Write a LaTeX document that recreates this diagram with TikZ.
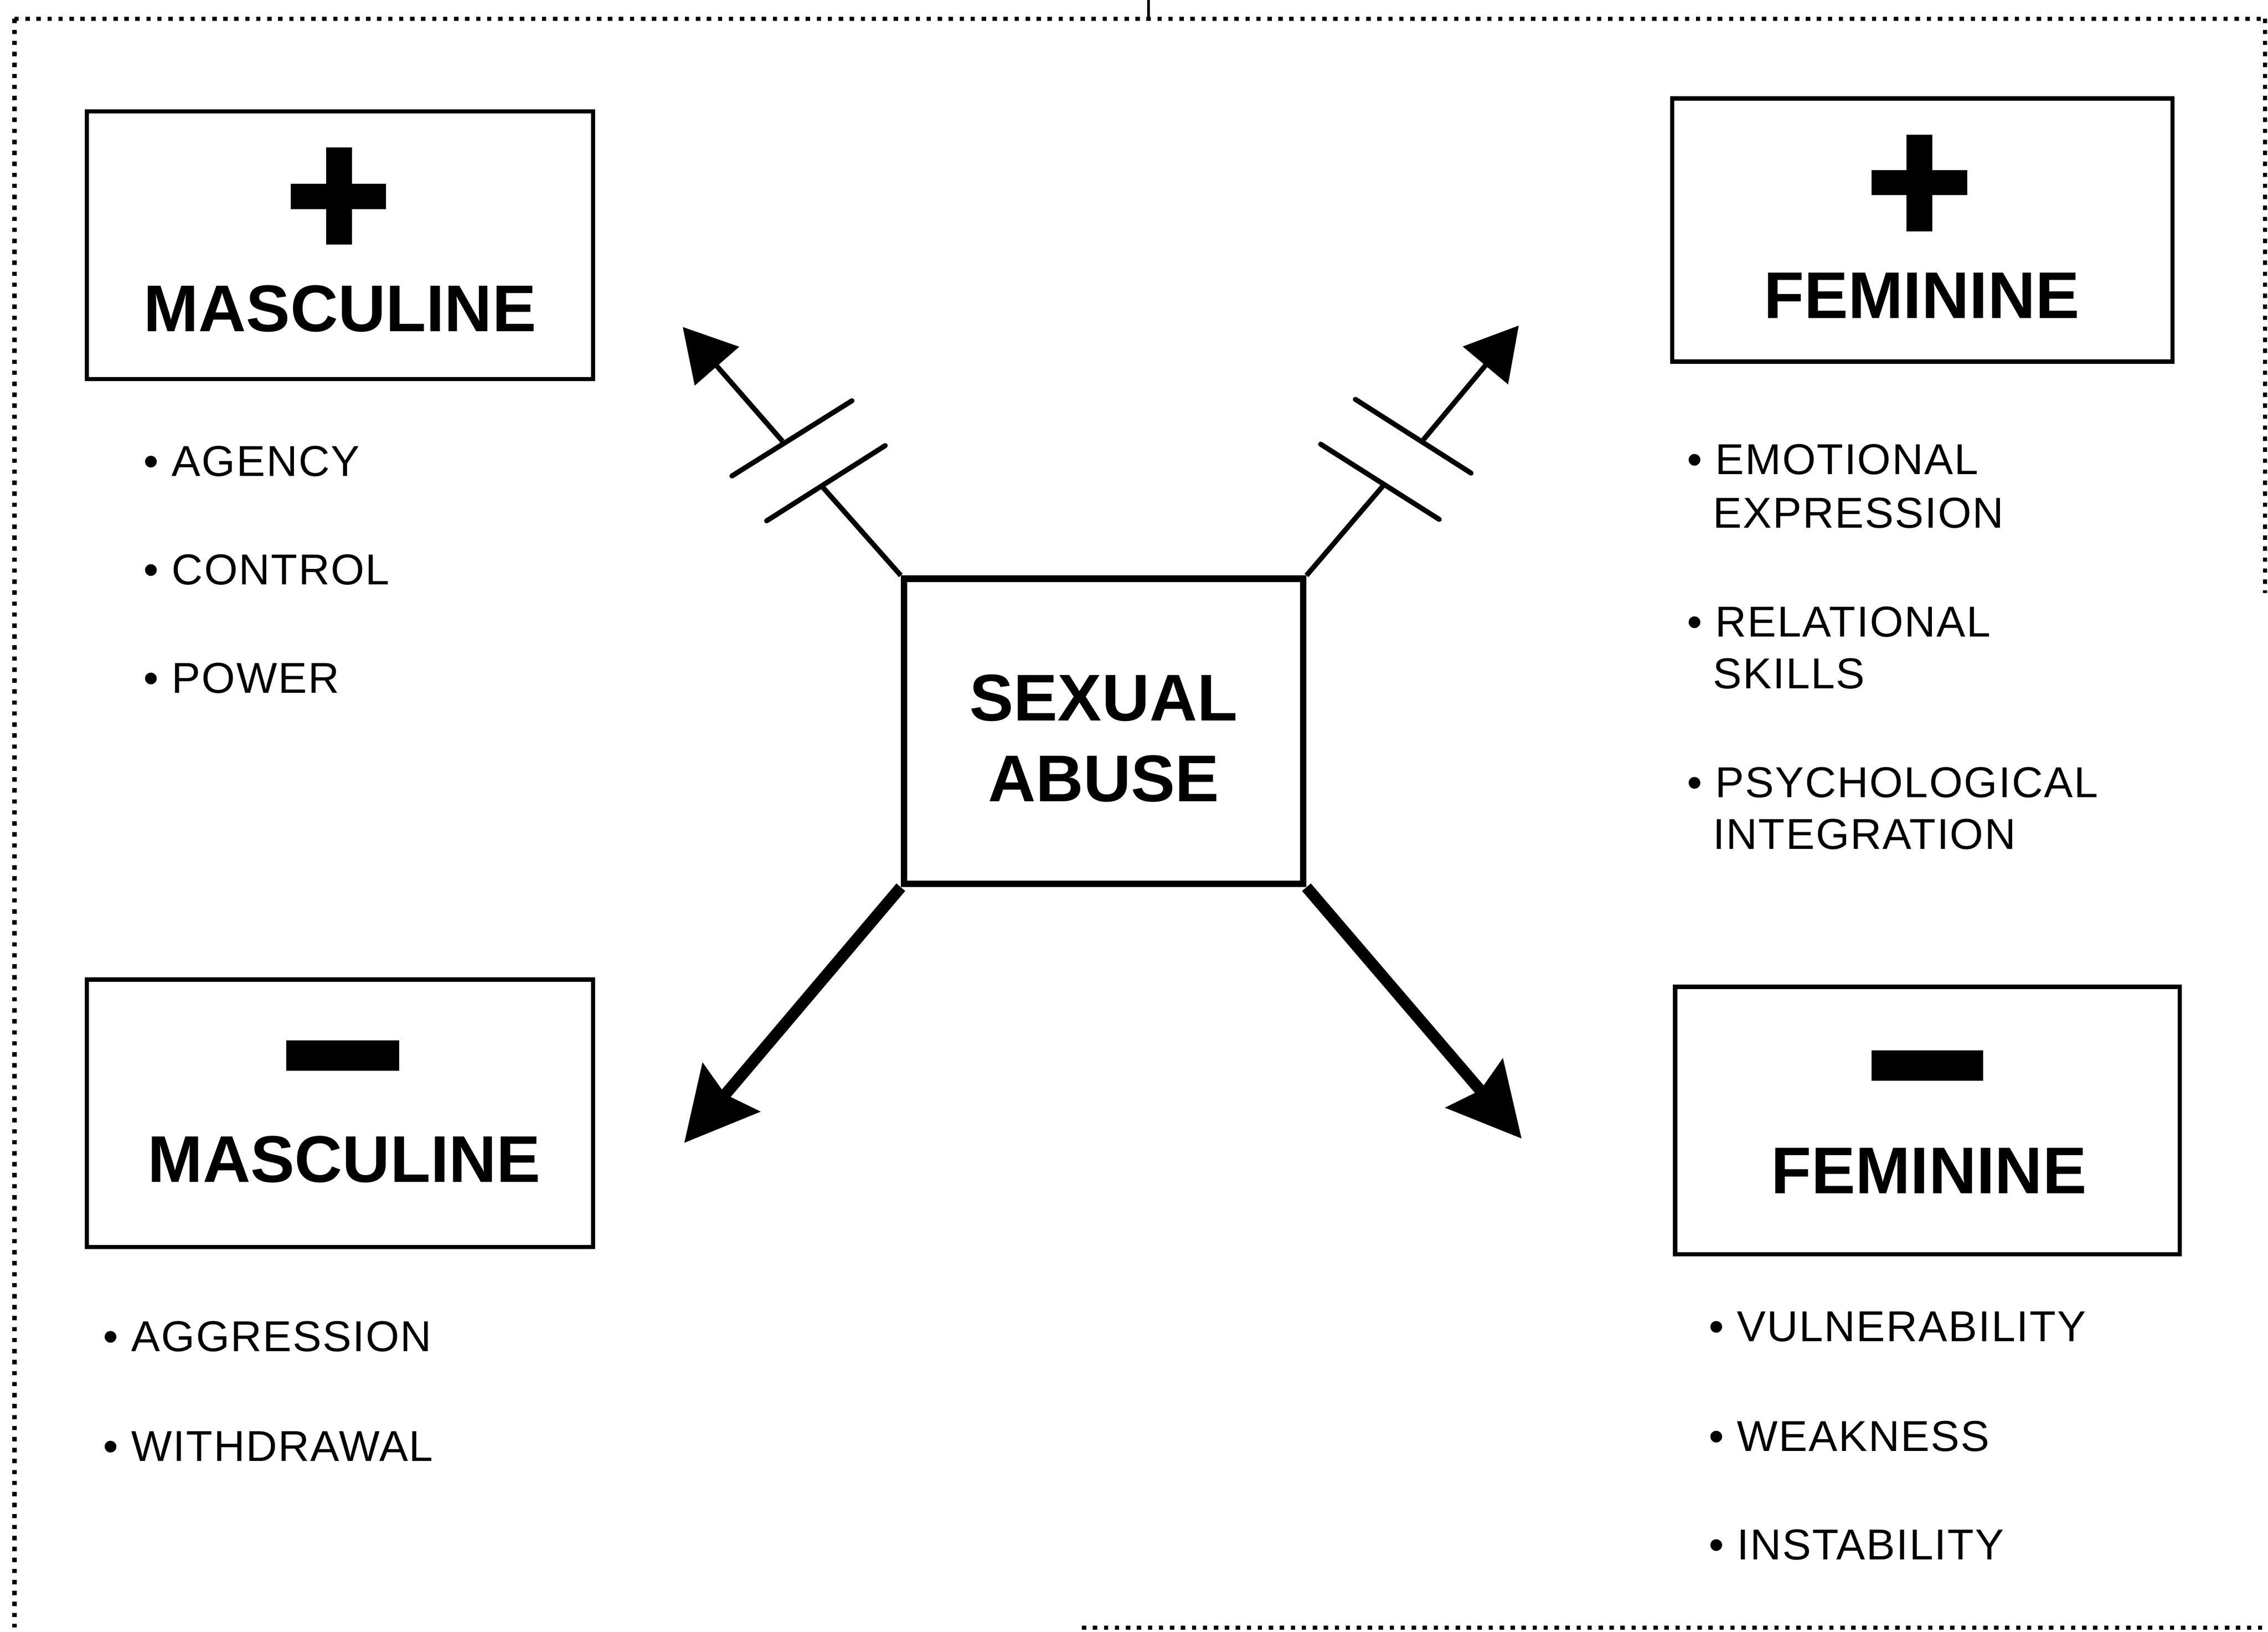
\documentclass[tikz,border=0pt]{standalone}
\usepackage{fontspec}
\setmainfont{Liberation Sans}
\newfontfamily\itemfont[LetterSpace=2.5]{Liberation Sans}
\usetikzlibrary{arrows.meta,calc}
\begin{document}
\begin{tikzpicture}[x=0.02cm,y=-0.02cm,
  frame/.style={line width=0.06cm,dash pattern=on 0.06cm off 0.092cm},
  box/.style={draw,line width=0.06cm,inner sep=0},
  centrebox/.style={draw,line width=0.09cm,inner sep=0,minimum width=5.52cm,minimum height=4.22cm},
  title/.style={font=\fontsize{26}{31}\selectfont\bfseries,inner sep=0,anchor=base},
  item/.style={font=\itemfont\fontsize{17}{21}\selectfont,inner sep=0,anchor=base west},
  thinline/.style={line width=0.07cm},
  thinhead/.style={thinline,-{Triangle[length=0.72cm,width=0.8cm]}},
  barline/.style={line width=0.07cm,line cap=round},
  thickhead/.style={line width=0.16cm,-{Stealth[length=1.0cm,width=1.02cm,inset=0.12cm]}}
]
\useasboundingbox (0,0) rectangle (1568,1128);

% dotted frame
\draw[frame] (10,13) -- (1566,13);
\draw[frame] (10,13) -- (10,1125);
\draw[frame] (748,1125) -- (1566,1125);
\draw[frame] (1566,13) -- (1566,410);
\draw[line width=0.04cm] (794,0) -- (794,13);

% boxes
\node (tlbox) [box,minimum width=7cm,minimum height=3.7cm] at (235,169.5) {};
\node (trbox) [box,minimum width=6.92cm,minimum height=3.64cm] at (1329,159) {};
\node (blbox) [box,minimum width=7cm,minimum height=3.7cm] at (235,769.5) {};
\node (brbox) [box,minimum width=6.98cm,minimum height=3.7cm] at (1332.5,774.5) {};
\node (cbox) [centrebox] at (763,505.5) {};

% plus and minus signs
\fill (225.5,102) rectangle (243.5,169);
\fill (201,127) rectangle (267,144.5);
\fill (1318,93) rectangle (1336,160);
\fill (1294,117.5) rectangle (1360,135);
\fill (198,719) rectangle (276,740);
\fill (1294,726) rectangle (1371,747);

% titles
\node (t1) [title] at (235,229) {MASCULINE};
\node (t2) [title] at (1328.5,220) {FEMININE};
\node (t3) [title] at (238,817) {MASCULINE};
\node (t4) [title] at (1333.5,825) {FEMININE};
\node (c1) [title] at (763,498) {SEXUAL};
\node (c2) [title] at (763,554) {ABUSE};

% lists
\node (a1) [item] at (99,329) {• AGENCY};
\node (a2) [item] at (99,404) {• CONTROL};
\node (a3) [item] at (99,479) {• POWER};

\node (b1) [item] at (1166,328) {• EMOTIONAL};
\node (b1b) [item] at (1184,365) {EXPRESSION};
\node (b2) [item] at (1166,440) {• RELATIONAL};
\node (b2b) [item] at (1184,476) {SKILLS};
\node (b3) [item] at (1166,551) {• PSYCHOLOGICAL};
\node (b3b) [item] at (1184,587) {INTEGRATION};

\node (d1) [item] at (71,934) {• AGGRESSION};
\node (d2) [item] at (71,1010) {• WITHDRAWAL};

\node (e1) [item] at (1181,927) {• VULNERABILITY};
\node (e2) [item] at (1181,1003) {• WEAKNESS};
\node (e3) [item] at (1181,1078) {• INSTABILITY};

% blocked arrows (top)
\coordinate (tltip) at (472,226);
\coordinate (tlg1) at (569,337);
\coordinate (tlg2) at (541,305);
\draw[thinline] (cbox.north west) -- (tlg1);
\draw[thinhead] (tlg2) -- (tltip);
\draw[barline] (530,360) -- (612,308);
\draw[barline] (506,329) -- (589,277);

\coordinate (trtip) at (1050,225);
\coordinate (trg1) at (956,336);
\coordinate (trg2) at (984,304);
\draw[thinline] (cbox.north east) -- (trg1);
\draw[thinhead] (trg2) -- (trtip);
\draw[barline] (913,307) -- (995,359);
\draw[barline] (937,276) -- (1017,327);

% thick arrows (bottom)
\coordinate (bltip) at (473,790);
\coordinate (brtip) at (1052,787);
\draw[thickhead] (cbox.south west) -- (bltip);
\draw[thickhead] (cbox.south east) -- (brtip);
\end{tikzpicture}
\end{document}
